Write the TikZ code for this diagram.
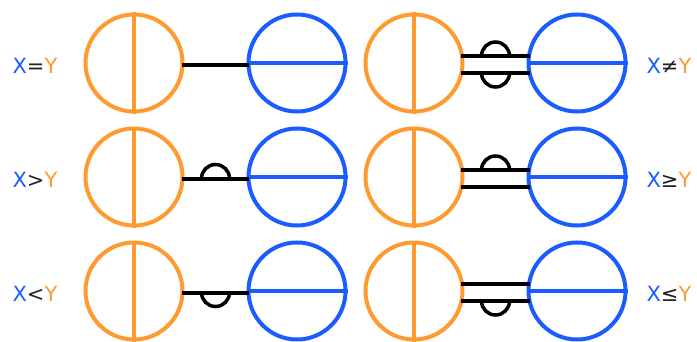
\documentclass[tikz,border=0pt]{standalone}
\usepackage{fontspec}
\setmainfont{DejaVu Sans}
\usetikzlibrary{calc}
\definecolor{cblue}{HTML}{1A5CFF}
\definecolor{corange}{HTML}{FF9A30}
\definecolor{cdark}{HTML}{222222}
\begin{document}
\begin{tikzpicture}[x=1pt,y=1pt,
  xcirc/.style={circle,draw=corange,line width=4pt,minimum size=97pt,inner sep=0pt},
  ycirc/.style={circle,draw=cblue,line width=4pt,minimum size=97pt,inner sep=0pt},
  conn/.style={draw=black,line width=4pt},
  bump/.style={draw=black,line width=3.5pt},
  lbl/.style={font=\fontsize{21}{21}\selectfont,inner sep=0pt}]
\useasboundingbox (0,0) rectangle (697,341);
% circles
\foreach \r/\y in {1/278,2/164,3/50}{
  \node[xcirc] (oL\r) at (134,\y) {};
  \node[ycirc] (bL\r) at (297,\y) {};
  \node[xcirc] (oR\r) at (414,\y) {};
  \node[ycirc] (bR\r) at (577,\y) {};
  \draw[corange,line width=4pt] (oL\r.north) -- (oL\r.south);
  \draw[corange,line width=4pt] (oR\r.north) -- (oR\r.south);
  \draw[cblue,line width=4pt] (bL\r.west) -- (bL\r.east);
  \draw[cblue,line width=4pt] (bR\r.west) -- (bR\r.east);
  % right column double lines
  \coordinate (uA\r) at ($(oR\r.center)+(47,7)$);
  \coordinate (uB\r) at ($(bR\r.center)+(-47,7)$);
  \coordinate (dA\r) at ($(oR\r.center)+(47,-10)$);
  \coordinate (dB\r) at ($(bR\r.center)+(-47,-10)$);
  \draw[conn] (uA\r) -- (uB\r);
  \draw[conn] (dA\r) -- (dB\r);
  % left column single connector
  \coordinate (sA\r) at ($(oL\r.center)+(48,-1.5)$);
  \coordinate (sB\r) at ($(bL\r.center)+(-48,-1.5)$);
  \draw[conn] (sA\r) -- (sB\r);
}
% bumps
\coordinate (m2) at ($(sA2)!0.5!(sB2)$);
\draw[bump] ([xshift=-14pt]m2) arc (180:0:14pt);
\coordinate (m3) at ($(sA3)!0.5!(sB3)$);
\draw[bump] ([xshift=-14pt]m3) arc (-180:0:14pt);
\coordinate (u1) at ($(uA1)!0.5!(uB1)$);
\draw[bump] ([xshift=-14pt]u1) arc (180:0:14pt);
\coordinate (d1) at ($(dA1)!0.5!(dB1)$);
\draw[bump] ([xshift=-14pt]d1) arc (-180:0:14pt);
\coordinate (u2) at ($(uA2)!0.5!(uB2)$);
\draw[bump] ([xshift=-14pt]u2) arc (180:0:14pt);
\coordinate (d3) at ($(dA3)!0.5!(dB3)$);
\draw[bump] ([xshift=-14pt]d3) arc (-180:0:14pt);
% labels
\node[lbl] (t1) at (35,275) {\textcolor{cblue}{X}\textcolor{cdark}{=}\textcolor{corange}{Y}};
\node[lbl] (t2) at (35,161) {\textcolor{cblue}{X}\textcolor{cdark}{>}\textcolor{corange}{Y}};
\node[lbl] (t3) at (35,47) {\textcolor{cblue}{X}\textcolor{cdark}{<}\textcolor{corange}{Y}};
\node[lbl] (t4) at (669,275) {\textcolor{cblue}{X}\textcolor{cdark}{≠}\textcolor{corange}{Y}};
\node[lbl] (t5) at (669,161) {\textcolor{cblue}{X}\textcolor{cdark}{≥}\textcolor{corange}{Y}};
\node[lbl] (t6) at (669,47) {\textcolor{cblue}{X}\textcolor{cdark}{≤}\textcolor{corange}{Y}};
\end{tikzpicture}
\end{document}
